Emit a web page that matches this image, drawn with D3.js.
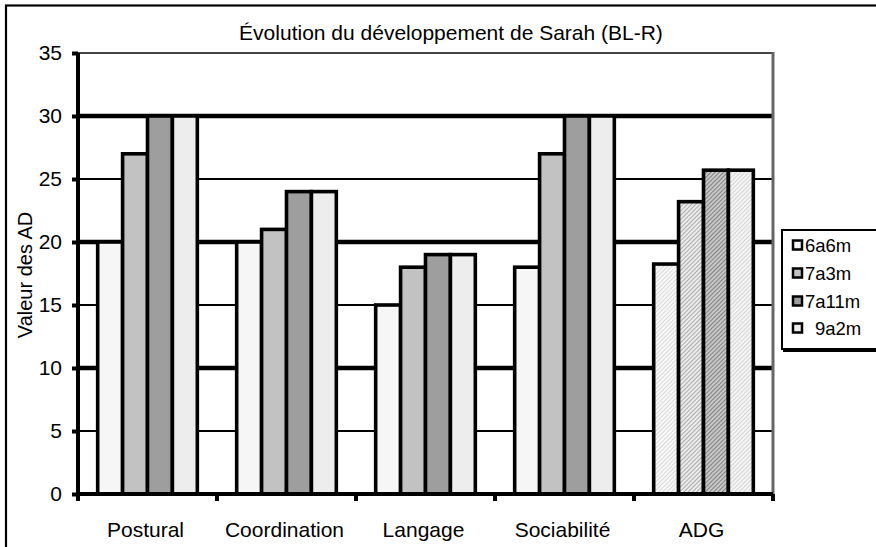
<!DOCTYPE html>
<html>
<head>
<meta charset="utf-8">
<script src="https://cdn.jsdelivr.net/npm/d3@7"></script>
<style>
  body { margin: 0; background: #fff; }
  text { font-family: "Liberation Sans", Arial, sans-serif; fill: #000; }
</style>
</head>
<body>
<div id="chart"></div>
<script>
// data
var categories = ["Postural", "Coordination", "Langage", "Sociabilité", "ADG"];
var series = ["6a6m", "7a3m", "7a11m", "9a2m"];
var s6a6m  = [20, 20, 15, 18, 18.25];
var s7a3m  = [27, 21, 18, 27, 23.2];
var s7a11m = [30, 24, 19, 30, 25.7];
var s9a2m  = [30, 24, 19, 30, 25.7];
var yTicks = [0, 5, 10, 15, 20, 25, 30, 35];

var seriesValues = [s6a6m, s7a3m, s7a11m, s9a2m];
var fills = ["#f6f6f6", "#c2c2c2", "#9e9e9e", "#ededed"];
// hatched fills used for the last group (ADG)
var hatch = [
  {bg: "#f8f8f8", line: "#dadada"},
  {bg: "#ececec", line: "#aaaaaa"},
  {bg: "#c8c8c8", line: "#808080"},
  {bg: "#f4f4f4", line: "#d6d6d6"}
];

var W = 876, H = 547;
var plot = {left: 78, right: 773, top: 53, bottom: 494};

var svg = d3.select("#chart").append("svg")
    .attr("width", W)
    .attr("height", H);

var defs = svg.append("defs");
hatch.forEach(function(h, i) {
  var p = defs.append("pattern")
      .attr("id", "hatch" + i)
      .attr("patternUnits", "userSpaceOnUse")
      .attr("width", 3)
      .attr("height", 3)
      .attr("patternTransform", "rotate(45)");
  p.append("rect").attr("width", 3).attr("height", 3).attr("fill", h.bg);
  p.append("line").attr("x1", 0.5).attr("y1", 0).attr("x2", 0.5).attr("y2", 3)
      .attr("stroke", h.line).attr("stroke-width", 1);
});

// outer frame (runs off the right and bottom edges)
svg.append("rect")
    .attr("x", 6).attr("y", 5.5)
    .attr("width", 900).attr("height", 600)
    .attr("fill", "none")
    .attr("stroke", "#000")
    .attr("stroke-width", 2.2);

var y = d3.scaleLinear().domain([0, 35]).range([plot.bottom, plot.top]);
var x0 = d3.scaleBand().domain(categories).range([plot.left, plot.right]).padding(0);
var x1 = d3.scaleBand().domain(series).range([0, x0.bandwidth()])
    .paddingInner(0).paddingOuter(0.79);

// gridlines
svg.append("g").selectAll("line")
    .data(yTicks.filter(function(d) { return d > 0; }))
  .enter().append("line")
    .attr("x1", plot.left).attr("x2", plot.right)
    .attr("y1", function(d) { return y(d); })
    .attr("y2", function(d) { return y(d); })
    .attr("stroke", function(d) { return d == 35 ? "#444" : "#000"; })
    .attr("stroke-width", function(d) { return d % 10 == 0 ? 4.5 : 2; });

// bars
var rows = [];
categories.forEach(function(c, ci) {
  series.forEach(function(s, si) {
    rows.push({cat: c, ser: s, si: si, hatched: c == "ADG", value: seriesValues[si][ci]});
  });
});

svg.append("g").selectAll("rect")
    .data(rows)
  .enter().append("rect")
    .attr("x", function(d) { return x0(d.cat) + x1(d.ser); })
    .attr("y", function(d) { return y(d.value); })
    .attr("width", x1.bandwidth())
    .attr("height", function(d) { return y(0) - y(d.value); })
    .attr("fill", function(d) { return d.hatched ? "url(#hatch" + d.si + ")" : fills[d.si]; })
    .attr("stroke", "#000")
    .attr("stroke-width", 3.6);

// right edge of plot area
svg.append("line")
    .attr("x1", plot.right).attr("x2", plot.right)
    .attr("y1", plot.top - 1).attr("y2", plot.bottom + 2)
    .attr("stroke", "#666").attr("stroke-width", 3);

// y axis
var yAxis = d3.axisLeft(y).tickValues(yTicks).tickSize(6).tickPadding(10);
var gy = svg.append("g")
    .attr("transform", "translate(" + plot.left + ",0)")
    .call(yAxis);
gy.select(".domain").remove();
gy.selectAll(".tick line").attr("stroke", "#000").attr("stroke-width", 4);
gy.selectAll(".tick text")
    .attr("font-size", 21)
    .attr("font-family", "Liberation Sans, Arial, sans-serif");
svg.append("line")
    .attr("x1", plot.left).attr("x2", plot.left)
    .attr("y1", plot.top).attr("y2", plot.bottom + 2)
    .attr("stroke", "#000").attr("stroke-width", 4);

// x axis: ticks at category boundaries, labels centered
var bounds = categories.map(function(c) { return x0(c); }).concat([plot.right]);
svg.append("line")
    .attr("x1", plot.left).attr("x2", plot.right)
    .attr("y1", plot.bottom).attr("y2", plot.bottom)
    .attr("stroke", "#000").attr("stroke-width", 4);
svg.append("g").selectAll("line")
    .data(bounds)
  .enter().append("line")
    .attr("x1", function(d) { return d; }).attr("x2", function(d) { return d; })
    .attr("y1", plot.bottom).attr("y2", plot.bottom + 7)
    .attr("stroke", "#000").attr("stroke-width", 4);

svg.append("g").selectAll("text")
    .data(categories)
  .enter().append("text")
    .attr("x", function(d) { return x0(d) + x0.bandwidth() / 2 - 2; })
    .attr("y", 537)
    .attr("text-anchor", "middle")
    .attr("font-size", 21)
    .text(function(d) { return d; });

// title
svg.append("text")
    .attr("x", 451).attr("y", 40)
    .attr("text-anchor", "middle")
    .attr("font-size", 21)
    .text("Évolution du développement de Sarah (BL-R)");

// y title
svg.append("text")
    .attr("transform", "translate(32,275) rotate(-90)")
    .attr("text-anchor", "middle")
    .attr("font-size", 20)
    .text("Valeur des AD");

// legend
var lg = svg.append("g");
lg.append("rect")
    .attr("x", 783).attr("y", 232)
    .attr("width", 110).attr("height", 120)
    .attr("fill", "#000");
lg.append("rect")
    .attr("x", 782).attr("y", 230)
    .attr("width", 110).attr("height", 119)
    .attr("fill", "#fff")
    .attr("stroke", "#000")
    .attr("stroke-width", 2);

var legendY = [245, 273, 301, 328];
var item = lg.selectAll(".legend")
    .data(series)
  .enter().append("g")
    .attr("class", "legend")
    .attr("transform", function(d, i) { return "translate(793," + legendY[i] + ")"; });
item.append("rect")
    .attr("x", 0).attr("y", -4.5)
    .attr("width", 9).attr("height", 9)
    .attr("fill", function(d, i) { return fills[i]; })
    .attr("stroke", "#000")
    .attr("stroke-width", 2.5);
item.append("text")
    .attr("x", function(d, i) { return i == 3 ? 22 : 12; })
    .attr("dy", "0.36em")
    .attr("font-size", 18.5)
    .text(function(d) { return d; });
</script>
</body>
</html>
